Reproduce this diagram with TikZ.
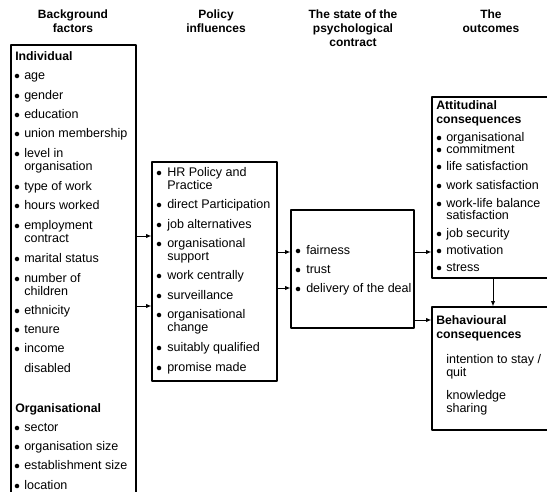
\documentclass[tikz,border=0pt]{standalone}
\usepackage{fontspec}
\setmainfont{Liberation Sans}
\usetikzlibrary{arrows.meta,fit}
\tikzset{
  box/.style={draw, line width=0.8pt, inner sep=0pt},
  itm/.style={anchor=mid west, inner sep=0pt, font=\fontsize{9.4}{9.4}\selectfont},
  hdr/.style={anchor=mid west, inner sep=0pt, font=\fontsize{9.2}{9.2}\selectfont\bfseries},
  ttl/.style={align=center, inner sep=0pt, font=\fontsize{9}{10.5}\selectfont\bfseries},
  link/.style={->, line width=0.7pt},
}
\begin{document}
\begin{tikzpicture}[x=0.75pt, y=-0.75pt, >={Latex[length=4pt,width=3.2pt]}, line join=round]
  \useasboundingbox (0,0) rectangle (547,492);
  \clip (0,0) rectangle (547,492);
  % column titles
  \node[ttl] (t1) at (73,21) {Background\\factors};
  \node[ttl] (t2) at (216,21) {Policy\\influences};
  \node[ttl] (t3) at (353,28) {The state of the\\psychological\\contract};
  \node[ttl] (t4) at (491,21) {The\\outcomes};
  % boxes
  \node[box, fit={(11,45) (136,520)}] (bg) {};
  \node[box, fit={(152,162) (277,381)}] (pol) {};
  \node[box, fit={(291,210) (414,328)}] (psy) {};
  \node[box, fit={(432,97) (570,278)}] (att) {};
  \node[box, fit={(432,307) (570,430)}] (beh) {};
  % background factors
  \node[hdr] (ind) at (15,57) {Individual};
  \node[hdr] (org) at (15,409) {Organisational};
  \foreach \y/\t in {76/age, 96/gender, 115/education, 134/union membership,
    154/level in, 187/type of work, 206/hours worked, 226/employment,
    259/marital status, 279/number of, 311/ethnicity, 330/tenure, 349/income,
    428/sector, 447/organisation size, 466/establishment size, 486/location}
  {
    \fill (17,\y) circle[radius=1.7pt];
    \node[itm] (bg-\y) at (24,\y) {\t};
  }
  \foreach \y/\t in {167/organisation, 239/contract, 292/children, 369/disabled}
    \node[itm] (bg-\y) at (24,\y) {\t};
  % policy influences
  \foreach \y/\t in {173/HR Policy and, 205/direct Participation, 225/job alternatives,
    244/organisational, 276/work centrally, 296/surveillance, 315/organisational,
    348/suitably qualified, 368/promise made}
  {
    \fill (159,\y) circle[radius=1.7pt];
    \node[itm] (pol-\y) at (167,\y) {\t};
  }
  \foreach \y/\t in {186/Practice, 257/support, 328/change}
    \node[itm] (pol-\y) at (167,\y) {\t};
  % psychological contract
  \foreach \y/\t in {251/fairness, 270/trust, 289/delivery of the deal}
  {
    \fill (298,\y) circle[radius=1.7pt];
    \node[itm] (psy-\y) at (306,\y) {\t};
  }
  % outcomes
  \node[hdr] (att-h1) at (436,106) {Attitudinal};
  \node[hdr] (att-h2) at (436,120) {consequences};
  \foreach \y/\t in {138/organisational, 150/commitment, 167/life satisfaction,
    186/work satisfaction, 204/work-life balance, 234/job security,
    251/motivation, 268/stress}
  {
    \fill (439,\y) circle[radius=1.7pt];
    \node[itm] (att-\y) at (446,\y) {\t};
  }
  \node[itm] (att-216) at (446,216) {satisfaction};
  \node[hdr] (beh-h1) at (436,321) {Behavioural};
  \node[hdr] (beh-h2) at (436,335) {consequences};
  \foreach \y/\t in {360/{intention to stay /}, 373/quit, 396/knowledge, 409/sharing}
    \node[itm] (beh-\y) at (446,\y) {\t};
  % connectors
  \draw[link] (bg.east |- 0,236) -- (pol.west |- 0,236);
  \draw[link] (bg.east |- 0,306) -- (pol.west |- 0,306);
  \draw[link] (pol.east |- 0,252) -- (psy.west |- 0,252);
  \draw[link] (pol.east |- 0,288) -- (psy.west |- 0,288);
  \draw[link] (psy.east |- 0,252) -- (att.west |- 0,252);
  \draw[link] (psy.east |- 0,320) -- (beh.west |- 0,320);
  \draw[link] (att.south -| 493,0) -- (beh.north -| 493,0);
\end{tikzpicture}
\end{document}
